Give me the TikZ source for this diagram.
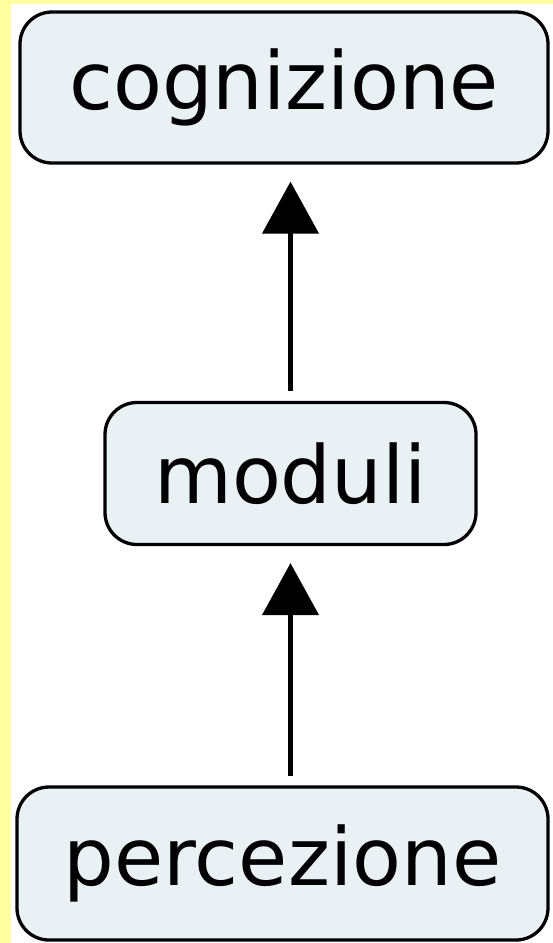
\documentclass[tikz,border=0pt]{standalone}
\usepackage{fontspec}
\setmainfont{DejaVu Sans}
\usetikzlibrary{arrows.meta}
\definecolor{bgyellow}{HTML}{FFFFA0}
\definecolor{boxfill}{HTML}{EAF1F4}
\tikzset{
  concept/.style={draw=black, line width=3.3pt, fill=boxfill, rounded corners=32pt,
    inner sep=0pt, font=\fontsize{80}{96}\selectfont},
  arr/.style={line width=4.6pt, -{Triangle[length=52pt,width=56pt]}}
}
\begin{document}
\begin{tikzpicture}[x=1pt,y=-1pt]
\useasboundingbox (0,0) rectangle (553,943);
\fill[bgyellow] (0,0) rectangle (553,943);
\fill[white] (11,4) rectangle (553,943);
\node[concept, minimum width=528pt, minimum height=151pt] (cog) at (284,87.5) {cognizione};
\node[concept, minimum width=371pt, minimum height=142pt] (mod) at (290.5,473.5) {moduli};
\node[concept, minimum width=531pt, minimum height=153pt] (perc) at (282.5,863.5) {percezione};
\draw[arr, shorten <=10pt, shorten >=17pt] (mod.north) -- (mod.north |- cog.south);
\draw[arr, shorten <=9pt, shorten >=17pt] (perc.north -| mod.south) -- (mod.south);
\end{tikzpicture}
\end{document}
